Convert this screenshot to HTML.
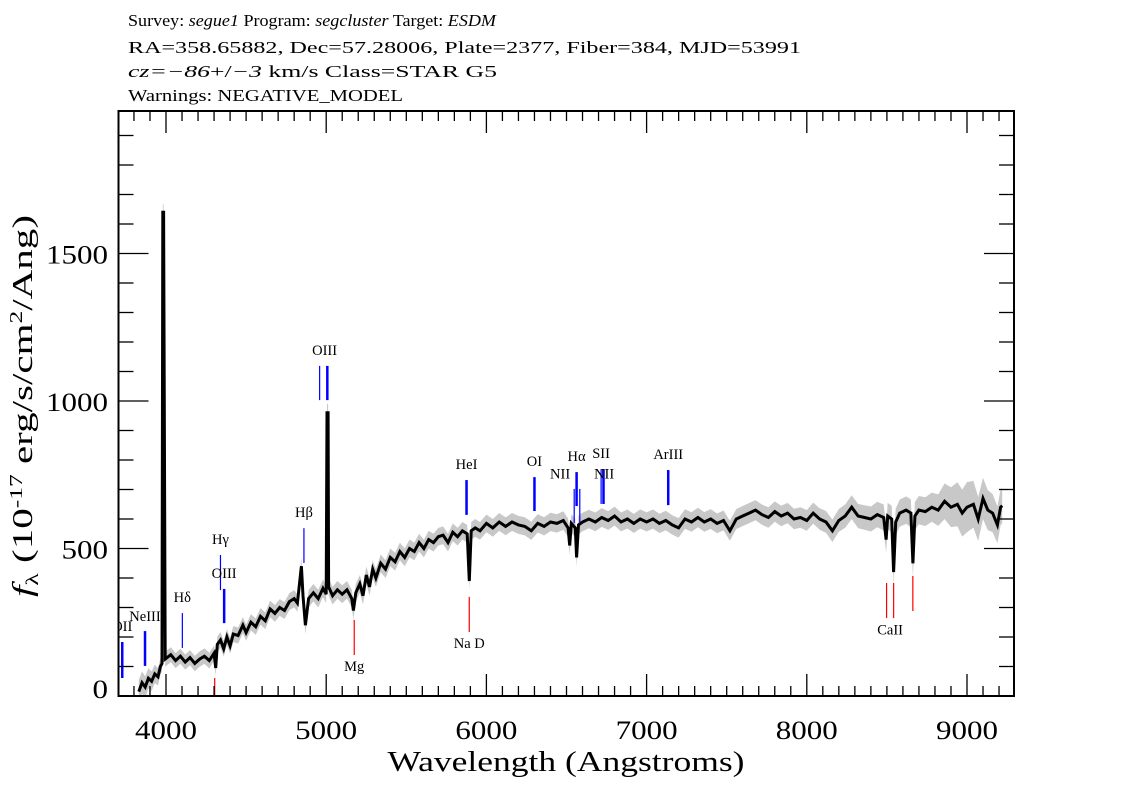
<!DOCTYPE html>
<html><head><meta charset="utf-8">
<style>
html,body{margin:0;padding:0;background:#fff;}
svg{display:block;font-family:"Liberation Serif","DejaVu Serif",serif;}
</style></head>
<body>
<svg id="chart" width="1134" height="810" viewBox="0 0 1134 810">
<defs><clipPath id="plotclip"><rect x="118.5" y="111" width="895.5" height="585"/></clipPath></defs>
<g font-size="17" fill="#000">
<text x="128" y="26" textLength="368" lengthAdjust="spacingAndGlyphs">Survey: <tspan font-style="italic">segue1</tspan> Program: <tspan font-style="italic">segcluster</tspan> Target: <tspan font-style="italic">ESDM</tspan></text>
<text x="128" y="53" textLength="673" lengthAdjust="spacingAndGlyphs">RA=358.65882, Dec=57.28006, Plate=2377, Fiber=384, MJD=53991</text>
<text x="128" y="77" textLength="369" lengthAdjust="spacingAndGlyphs"><tspan font-style="italic">cz=−86</tspan>+/<tspan font-style="italic">−3</tspan> km/s Class=STAR G5</text>
<text x="128" y="101" textLength="275" lengthAdjust="spacingAndGlyphs">Warnings: NEGATIVE_MODEL</text>
</g>
<g id="errband" clip-path="url(#plotclip)"></g>
<g id="flux" clip-path="url(#plotclip)"></g>
<g id="markers" clip-path="url(#plotclip)"></g>
<g id="axes"></g>
<text x="566" y="771" text-anchor="middle" font-size="28" textLength="357" lengthAdjust="spacingAndGlyphs">Wavelength (Angstroms)</text>
<text transform="translate(32,406) rotate(-90)" text-anchor="middle" font-size="29" textLength="382" lengthAdjust="spacingAndGlyphs"><tspan font-style="italic">f</tspan><tspan font-size="18" dy="6">λ</tspan><tspan dy="-6"> (10</tspan><tspan font-size="18" dy="-10">-17</tspan><tspan dy="10"> erg/s/cm</tspan><tspan font-size="18" dy="-10">2</tspan><tspan dy="10">/Ang)</tspan></text>
</svg>
<script>
const waves = [3830,3850,3870,3890,3910,3930,3950,3965,3975,3980,3985,3995,4030,4060,4090,4120,4150,4180,4210,4240,4270,4300,4310,4320,4340,4360,4380,4400,4420,4450,4480,4500,4530,4560,4590,4620,4650,4680,4710,4740,4770,4800,4820,4845,4855,4870,4890,4920,4950,4980,5000,5005,5012,5015,5040,5070,5100,5130,5160,5170,5185,5210,5230,5250,5270,5290,5310,5340,5370,5400,5430,5460,5490,5520,5550,5580,5610,5640,5670,5700,5730,5760,5790,5820,5850,5880,5893,5905,5930,5960,6000,6040,6080,6120,6160,6200,6240,6280,6320,6360,6400,6440,6480,6510,6520,6530,6555,6563,6575,6600,6640,6680,6720,6760,6800,6840,6880,6920,6960,7000,7040,7080,7120,7160,7200,7240,7280,7320,7360,7400,7440,7480,7520,7560,7600,7640,7680,7720,7760,7800,7840,7880,7920,7960,8000,8040,8080,8120,8160,8200,8240,8280,8320,8360,8400,8440,8480,8495,8505,8530,8542,8555,8580,8620,8650,8662,8675,8700,8740,8780,8820,8860,8900,8940,8970,9000,9040,9070,9100,9130,9160,9190,9210,9220];
const fluxes = [15,45,30,60,50,75,65,100,110,1640,1640,125,140,120,135,115,130,110,125,135,120,145,95,175,190,160,200,170,210,205,240,215,250,235,270,255,295,280,300,290,320,330,315,440,340,240,330,350,330,365,345,960,960,370,340,360,345,360,330,290,350,380,340,410,370,430,400,450,430,470,455,490,470,500,490,520,500,530,520,540,545,520,555,540,560,550,390,560,570,560,585,570,590,575,590,580,575,560,585,575,590,585,595,570,510,585,570,470,580,590,600,590,605,595,610,590,600,585,600,590,600,585,595,580,570,600,590,605,590,600,585,595,560,600,610,620,630,615,605,625,610,620,600,605,595,620,600,590,560,595,610,640,610,605,600,615,605,530,610,600,420,590,620,630,620,450,610,630,625,640,630,660,640,650,620,640,650,600,670,630,620,580,640,645];
const errWaves = [3830,4000,5000,6000,8000,8800,9000,9100,9220];
const errVals = [40,25,30,30,35,50,85,70,60];
const xTicks = [4000,5000,6000,7000,8000,9000];
const yTicks = [0,500,1000,1500];
const emisWave = [3727,3869,4102,4340,4363,4861,4959,5007,5876,6300,6548,6563,6583,6716,6731,7135];
const emisLo = [61,102,163,359,247,451,1003,1003,614,627,586,644,586,651,651,647];
const emisHi = [183,220,281,478,363,569,1119,1119,732,742,702,759,702,769,769,766];
const emisThick = [1,1,0,0,1,0,0,1,1,1,0,1,0,0,1,1];
const emisLabelWave = [3727,3869,4102,4340,4363,4861,4990,5876,6300,6563,6460,6716,6735,7135];
const emisLabelText = ["OII","NeIII","Hδ","Hγ","OIII","Hβ","OIII","HeI","OI","Hα","NII","SII","NII","ArIII"];
const emisLabelFlux = [220,255,318,515,400,607,1156,770,780,796,737,806,737,803];
const absWave = [4304,5175,5893,8498,8542,8662];
const absLo = [-10,139,217,264,264,288];
const absHi = [61,258,336,383,383,407];
const absLabelWave = [5175,5893,8520];
const absLabelText = ["Mg","Na D","CaII"];
const absLabelFlux = [84,162,209];

const NS="http://www.w3.org/2000/svg";
const X0=166, XS=0.1602, Y0=696, YS=0.295;
function xs(w){return X0+(w-4000)*XS;}
function ys(f){return Y0-f*YS;}
function mk(tag,attrs,parent){const e=document.createElementNS(NS,tag);for(const k in attrs)e.setAttribute(k,attrs[k]);parent.appendChild(e);return e;}
function errAt(w){for(let i=0;i<errWaves.length-1;i++){if(w<=errWaves[i+1]){const t=(w-errWaves[i])/(errWaves[i+1]-errWaves[i]);return errVals[i]+t*(errVals[i+1]-errVals[i]);}}return errVals[errVals.length-1];}

const eb=document.getElementById('errband');
let up=[],dn=[];
for(let i=0;i<waves.length;i++){const e=errAt(waves[i]);up.push(xs(waves[i]).toFixed(1)+','+ys(fluxes[i]+e).toFixed(1));dn.unshift(xs(waves[i]).toFixed(1)+','+ys(fluxes[i]-e).toFixed(1));}
const band=mk('polygon',{points:up.concat(dn).join(' '),fill:'#c8c8c8',stroke:'none'},eb);



const fg=document.getElementById('flux');
const pts=waves.map((w,i)=>xs(w).toFixed(1)+','+ys(fluxes[i]).toFixed(1)).join(' ');
const line=mk('polyline',{points:pts,fill:'none',stroke:'#000','stroke-width':3,'stroke-linejoin':'miter'},fg);



const mg=document.getElementById('markers');
for(let i=0;i<emisWave.length;i++){
  const l=mk('line',{x1:xs(emisWave[i]),x2:xs(emisWave[i]),y1:ys(emisLo[i]),y2:ys(emisHi[i]),stroke:'#0000ff','stroke-width':emisThick[i]?2.5:1.2},mg);
  
  
}
for(let i=0;i<emisLabelWave.length;i++){
  const t=mk('text',{x:xs(emisLabelWave[i]),y:ys(emisLabelFlux[i]),'text-anchor':'middle','font-size':14.5},mg);
  t.textContent=emisLabelText[i];
  
  
}
for(let i=0;i<absWave.length;i++){
  const l=mk('line',{x1:xs(absWave[i]),x2:xs(absWave[i]),y1:ys(absLo[i]),y2:ys(absHi[i]),stroke:'#ff0000','stroke-width':1.2},mg);
  
  
}
for(let i=0;i<absLabelWave.length;i++){
  const t=mk('text',{x:xs(absLabelWave[i]),y:ys(absLabelFlux[i]),'text-anchor':'middle','font-size':14.5},mg);
  t.textContent=absLabelText[i];
  
  
}

const ax=document.getElementById('axes');
const frame=mk('rect',{x:118.5,y:111,width:895.5,height:585,fill:'none',stroke:'#000','stroke-width':2},ax);


const xMax=9296;
for(let w=3800;w<=xMax;w+=100){
  const major=(w%1000===0), len=major?22:10, x=xs(w);
  const t1=mk('line',{x1:x,x2:x,y1:696,y2:696-len,stroke:'#000','stroke-width':1.3},ax);
  
  
  const t2=mk('line',{x1:x,x2:x,y1:111,y2:111+len,stroke:'#000','stroke-width':1.3},ax);
  
  
}
for(let f=0;f<=1900;f+=100){
  const major=(f%500===0), len=major?30:15, y=ys(f);
  const t1=mk('line',{x1:118.5,x2:118.5+len,y1:y,y2:y,stroke:'#000','stroke-width':1.3},ax);
  
  
  const t2=mk('line',{x1:1014,x2:1014-len,y1:y,y2:y,stroke:'#000','stroke-width':1.3},ax);
  
  
}
xTicks.forEach(w=>{
  const t=mk('text',{x:xs(w),y:739,'text-anchor':'middle','font-size':26,textLength:62,lengthAdjust:'spacingAndGlyphs'},ax);
  t.textContent=String(w);
  
  
});
yTicks.forEach(f=>{
  const y=f===0?ys(f)-8:ys(f);
  const s=String(f);
  const w=s.length*15.5;
  const t=mk('text',{x:108-w,y:y+10,'font-size':26,textLength:w,lengthAdjust:'spacingAndGlyphs'},ax);
  t.textContent=s;
  
  
});
</script>
</body></html>
